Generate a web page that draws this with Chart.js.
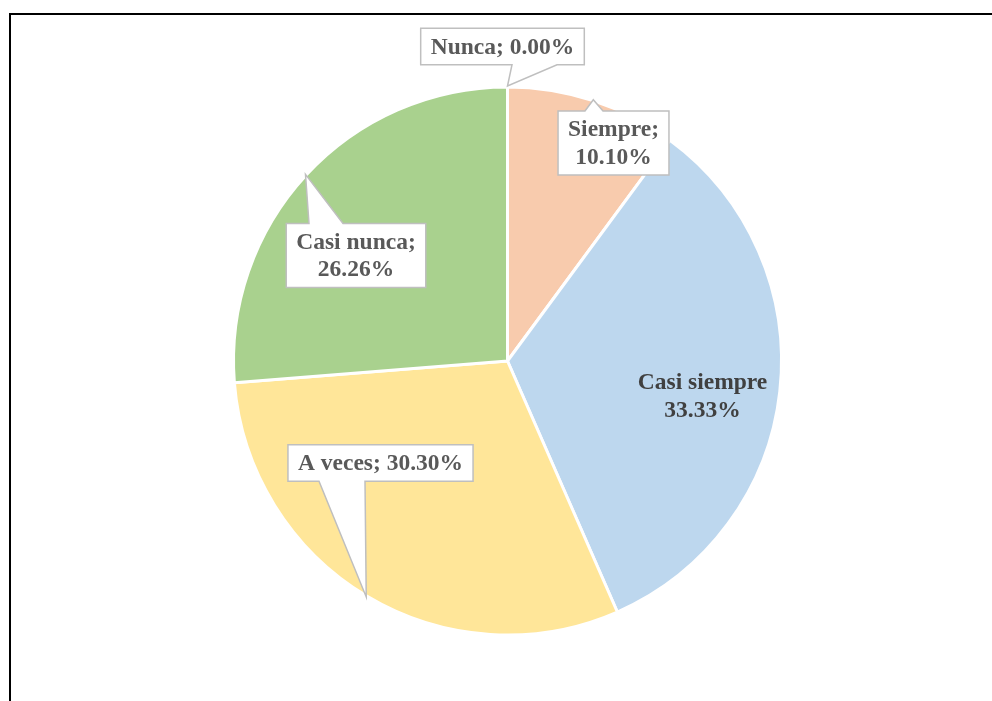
<!DOCTYPE html>
<html>
<head>
<meta charset="utf-8">
<script src="https://cdn.jsdelivr.net/npm/chart.js@4/dist/chart.umd.min.js"></script>
<style>
  html, body { margin: 0; padding: 0; background: #ffffff; overflow: hidden; }
  #wrap { position: relative; width: 992px; height: 701px; }
</style>
</head>
<body>
<div id="wrap"><canvas id="c" width="992" height="701"></canvas></div>
<script>
// ---- data ----
const categories = ["Nunca", "Siempre", "Casi siempre", "A veces", "Casi nunca"];
const percentValues = [0.00, 10.10, 33.33, 30.30, 26.26];
const sliceColors = ["#F8CBAD", "#F8CBAD", "#BDD7EE", "#FFE699", "#A9D18E"];

// ---- label layout (styles / placement only) ----
// dx, dy: box centre offset from pie centre; lines: how the text splits; side: pointer side; b1,b2: pointer base relative to box centre x
const labelLayout = [
  { dx: -5,    dy: -314.5, split: false, sep: "; ", box: true,  side: "bottom", b1: 9.5,   b2: 54.5 },
  { dx: 106,   dy: -218,   split: true,  sep: ";",  box: true,  side: "top",    b1: -28.5, b2: -10.5 },
  { dx: 195,   dy: 35,     split: true,  sep: "",   box: false },
  { dx: -127,  dy: 102,    split: false, sep: "; ", box: true,  side: "bottom", b1: -61.5, b2: -15.5 },
  { dx: -151.5,dy: -105.5, split: true,  sep: ";",  box: true,  side: "top",    b1: -47,   b2: -13 }
];

const frameAndLabels = {
  id: 'frameAndLabels',
  beforeDraw(chart) {
    const ctx = chart.ctx;
    ctx.save();
    ctx.fillStyle = '#ffffff';
    ctx.fillRect(0, 0, chart.width, chart.height);
    ctx.strokeStyle = '#000000';
    ctx.lineWidth = 2;
    ctx.strokeRect(10, 14, 1200, 1000);
    ctx.restore();
  },
  afterDatasetsDraw(chart) {
    const ctx = chart.ctx;
    const meta = chart.getDatasetMeta(0);
    const font = 'bold 23.5px "Liberation Serif", "Times New Roman", serif';
    const lineH = 27.5;
    ctx.save();
    ctx.font = font;
    ctx.textAlign = 'center';
    ctx.textBaseline = 'middle';
    meta.data.forEach((arc, i) => {
      const L = labelLayout[i];
      const cx = arc.x + L.dx, cy = arc.y + L.dy;
      const pct = percentValues[i].toFixed(2) + '%';
      const lines = L.split ? [categories[i] + L.sep, pct] : [categories[i] + L.sep + pct];
      if (L.box) {
        const tw = Math.max(...lines.map(t => ctx.measureText(t).width));
        const w = tw + 20, h = lines.length * lineH + 9;
        const left = cx - w / 2, right = cx + w / 2, top = cy - h / 2, bottom = cy + h / 2;
        const mid = (arc.startAngle + arc.endAngle) / 2;
        const r = arc.outerRadius + 1;
        const tx = arc.x + r * Math.cos(mid), ty = arc.y + r * Math.sin(mid);
        const b1 = cx + L.b1, b2 = cx + L.b2;
        ctx.beginPath();
        if (L.side === 'top') {
          ctx.moveTo(left, top); ctx.lineTo(b1, top); ctx.lineTo(tx, ty); ctx.lineTo(b2, top);
          ctx.lineTo(right, top); ctx.lineTo(right, bottom); ctx.lineTo(left, bottom);
        } else {
          ctx.moveTo(left, top); ctx.lineTo(right, top); ctx.lineTo(right, bottom);
          ctx.lineTo(b2, bottom); ctx.lineTo(tx, ty); ctx.lineTo(b1, bottom); ctx.lineTo(left, bottom);
        }
        ctx.closePath();
        ctx.fillStyle = '#ffffff';
        ctx.fill();
        ctx.strokeStyle = '#BFBFBF';
        ctx.lineWidth = 1.5;
        ctx.lineJoin = 'miter';
        ctx.stroke();
        ctx.fillStyle = '#595959';
      } else {
        ctx.fillStyle = '#404040';
      }
      const y0 = cy - (lines.length - 1) * lineH / 2;
      lines.forEach((t, k) => ctx.fillText(t, cx, y0 + k * lineH + 1));
    });
    ctx.restore();
  }
};

new Chart(document.getElementById('c'), {
  type: 'pie',
  data: {
    labels: categories,
    datasets: [{
      data: percentValues,
      backgroundColor: sliceColors,
      borderColor: '#ffffff',
      borderWidth: 3,
      radius: 274
    }]
  },
  options: {
    responsive: false,
    devicePixelRatio: 1,
    animation: false,
    layout: { padding: { left: 23, right: 0, top: 21, bottom: 0 } },
    plugins: {
      legend: { display: false },
      tooltip: { enabled: false }
    }
  },
  plugins: [frameAndLabels]
});
</script>
</body>
</html>
